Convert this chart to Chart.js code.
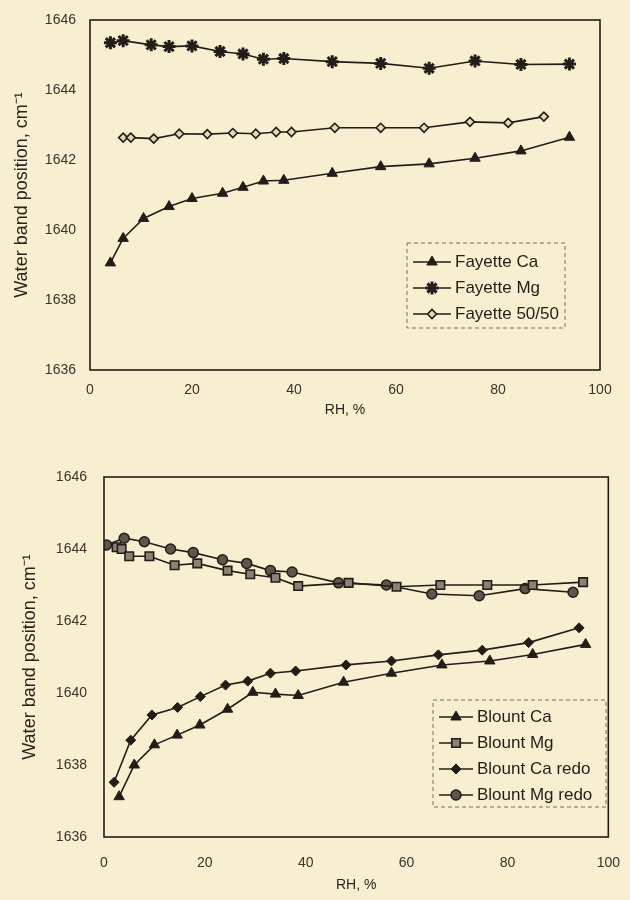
<!DOCTYPE html>
<html>
<head>
<meta charset="utf-8">
<script src="https://cdn.jsdelivr.net/npm/chart.js@4.4.1/dist/chart.umd.min.js"></script>
<style>
  body { margin: 0; background: #f7efcf; }
  .wrap { position: absolute; left: 0; width: 630px; }
</style>
</head>
<body>
<div class="wrap" style="top:0;height:440px"><canvas id="fayetteChart" width="630" height="440"></canvas></div>
<div class="wrap" style="top:450px;height:450px"><canvas id="blountChart" width="630" height="450"></canvas></div>
<script>
// ---- data (RH %, water band position cm-1) ----
const xTicks = [0, 20, 40, 60, 80, 100];
const yTicks = [1636, 1638, 1640, 1642, 1644, 1646];

const fayCaRH = [4, 6.5, 10.5, 15.5, 20, 26, 30, 34, 38, 47.5, 57, 66.5, 75.5, 84.5, 94];
const fayCaPos = [1639.06, 1639.76, 1640.33, 1640.67, 1640.9, 1641.05, 1641.22, 1641.4, 1641.42, 1641.62, 1641.81, 1641.89, 1642.05, 1642.26, 1642.65];

const fayMgRH = [4, 6.5, 12, 15.5, 20, 25.5, 30, 34, 38, 47.5, 57, 66.5, 75.5, 84.5, 94];
const fayMgPos = [1645.35, 1645.41, 1645.29, 1645.24, 1645.26, 1645.1, 1645.03, 1644.88, 1644.9, 1644.81, 1644.76, 1644.62, 1644.83, 1644.73, 1644.74];

const fay5050RH = [6.5, 8, 12.5, 17.5, 23, 28, 32.5, 36.5, 39.5, 48, 57, 65.5, 74.5, 82, 89];
const fay5050Pos = [1642.64, 1642.64, 1642.61, 1642.75, 1642.74, 1642.77, 1642.75, 1642.8, 1642.8, 1642.92, 1642.92, 1642.92, 1643.09, 1643.06, 1643.24];

const blCaRH = [3, 6, 10, 14.5, 19, 24.5, 29.5, 34, 38.5, 47.5, 57, 67, 76.5, 85, 95.5];
const blCaPos = [1637.12, 1638.0, 1638.56, 1638.83, 1639.11, 1639.55, 1640.02, 1639.97, 1639.93, 1640.3, 1640.55, 1640.78, 1640.89, 1641.07, 1641.35];

const blMgRH = [2.5, 3.5, 5, 9, 14, 18.5, 24.5, 29, 34, 38.5, 48.5, 58, 66.7, 76, 85, 95];
const blMgPos = [1644.05, 1644.0, 1643.8, 1643.8, 1643.55, 1643.6, 1643.4, 1643.3, 1643.2, 1642.97, 1643.06, 1642.95, 1643.0, 1643.0, 1643.0, 1643.08];

const blCaRedoRH = [2, 5.3, 9.5, 14.6, 19.1, 24.1, 28.5, 33, 38, 48, 57, 66.3, 75, 84.2, 94.2];
const blCaRedoPos = [1637.52, 1638.69, 1639.39, 1639.6, 1639.9, 1640.22, 1640.33, 1640.55, 1640.61, 1640.78, 1640.89, 1641.06, 1641.19, 1641.4, 1641.81];

const blMgRedoRH = [0.5, 4, 8, 13.2, 17.7, 23.5, 28.3, 33, 37.3, 46.5, 56, 65, 74.4, 83.5, 93];
const blMgRedoPos = [1644.11, 1644.3, 1644.2, 1644.0, 1643.9, 1643.7, 1643.6, 1643.4, 1643.36, 1643.06, 1643.0, 1642.75, 1642.7, 1642.9, 1642.8];

const ink = "#221d19";
const fontFamily = "'Liberation Sans', Arial, sans-serif";
const tickFont = { family: fontFamily, size: 14 };

function pts(xs, ys) {
  return xs.map((x, i) => ({ x: x, y: ys[i] }));
}

function series(label, xs, ys, style, radius, fill, bw) {
  return {
    label: label,
    data: pts(xs, ys),
    borderColor: ink,
    borderWidth: 1.6,
    pointStyle: style,
    pointRadius: radius,
    pointHoverRadius: radius,
    pointBackgroundColor: fill,
    pointBorderColor: ink,
    pointBorderWidth: bw,
    tension: 0,
  };
}

// box around the plot area
const frame = {
  id: "frame",
  afterDraw(chart) {
    const a = chart.chartArea;
    const ctx = chart.ctx;
    ctx.save();
    ctx.strokeStyle = ink;
    ctx.lineWidth = 1.6;
    ctx.strokeRect(a.left, a.top, a.right - a.left, a.bottom - a.top);
    ctx.restore();
  },
};

// legend drawn in a dashed box inside the plot
const boxLegend = {
  id: "boxLegend",
  afterDatasetsDraw(chart, args, o) {
    const ctx = chart.ctx;
    ctx.save();
    ctx.strokeStyle = "#7a7166";
    ctx.lineWidth = 1;
    ctx.setLineDash([4, 3]);
    ctx.strokeRect(o.x, o.y, o.w, o.h);
    ctx.setLineDash([]);
    chart.data.datasets.forEach((ds, i) => {
      const y = o.y + o.first + i * o.rowH;
      const x0 = o.x + 6;
      ctx.strokeStyle = ink;
      ctx.lineWidth = 1.6;
      ctx.beginPath();
      ctx.moveTo(x0, y);
      ctx.lineTo(x0 + o.lineLen, y);
      ctx.stroke();
      ctx.fillStyle = ds.pointBackgroundColor;
      ctx.strokeStyle = ink;
      ctx.lineWidth = ds.pointBorderWidth;
      Chart.helpers.drawPoint(ctx, {
        pointStyle: ds.pointStyle,
        radius: ds.pointRadius,
        borderWidth: ds.pointBorderWidth,
        rotation: 0,
      }, x0 + o.lineLen / 2, y);
      ctx.fillStyle = ink;
      ctx.font = o.font;
      ctx.textBaseline = "middle";
      ctx.textAlign = "left";
      ctx.fillText(ds.label, x0 + o.lineLen + 4, y);
    });
    ctx.restore();
  },
};

function makeChart(id, datasets, lay) {
  return new Chart(document.getElementById(id), {
    type: "line",
    data: { datasets: datasets },
    plugins: [frame, boxLegend],
    options: {
      responsive: false,
      animation: false,
      layout: { padding: { top: lay.top, right: lay.right, bottom: 0, left: 0 } },
      plugins: {
        legend: { display: false },
        tooltip: { enabled: false },
        boxLegend: lay.legend,
      },
      scales: {
        x: {
          type: "linear",
          min: 0,
          max: 100,
          afterBuildTicks: (s) => { s.ticks = xTicks.map((v) => ({ value: v })); },
          afterFit: (s) => { s.height = lay.xHeight; },
          grid: { display: false },
          border: { display: false },
          ticks: { color: "#3a332c", font: tickFont, padding: lay.xPad, maxRotation: 0, callback: (v) => String(v) },
          title: {
            display: true,
            text: "RH, %",
            color: "#2a241f",
            font: { family: fontFamily, size: 14 },
            padding: { top: 0, bottom: lay.xTitlePad },
          },
        },
        y: {
          type: "linear",
          min: 1636,
          max: 1646,
          afterBuildTicks: (s) => { s.ticks = yTicks.map((v) => ({ value: v })); },
          afterFit: (s) => { s.width = lay.yWidth; },
          grid: { display: false },
          border: { display: false },
          ticks: { color: "#3a332c", font: tickFont, padding: lay.yPad, callback: (v) => String(v) },
          title: {
            display: true,
            text: "Water band position, cm\u207B\u00B9",
            color: "#2a241f",
            font: { family: fontFamily, size: 18 },
            padding: { top: lay.yTitlePad, bottom: 0 },
          },
        },
      },
    },
  });
}

makeChart("fayetteChart", [
  series("Fayette Ca", fayCaRH, fayCaPos, "triangle", 6, ink, 1),
  series("Fayette Mg", fayMgRH, fayMgPos, "star", 6.5, ink, 3),
  series("Fayette 50/50", fay5050RH, fay5050Pos, "rectRot", 4.5, "#e2d9bb", 1.6),
], {
  top: 20, right: 30, xHeight: 70, yWidth: 90, xPad: 4, xTitlePad: 21, yPad: 6, yTitlePad: 11,
  legend: { x: 407, y: 243, w: 158, h: 85, first: 19, rowH: 26, lineLen: 38, font: "17px " + fontFamily },
});

makeChart("blountChart", [
  series("Blount Ca", blCaRH, blCaPos, "triangle", 6, ink, 1),
  series("Blount Mg", blMgRH, blMgPos, "rect", 6, "#8c8273", 1.6),
  series("Blount Ca redo", blCaRedoRH, blCaRedoPos, "rectRot", 5, ink, 1),
  series("Blount Mg redo", blMgRedoRH, blMgRedoPos, "circle", 5, "#5e564d", 1.5),
], {
  top: 27, right: 18, xHeight: 63, yWidth: 104, xPad: 10, xTitlePad: 6, yPad: 9, yTitlePad: 19,
  legend: { x: 433, y: 250, w: 173, h: 107, first: 17, rowH: 26, lineLen: 34, font: "17px " + fontFamily },
});
</script>
</body>
</html>
